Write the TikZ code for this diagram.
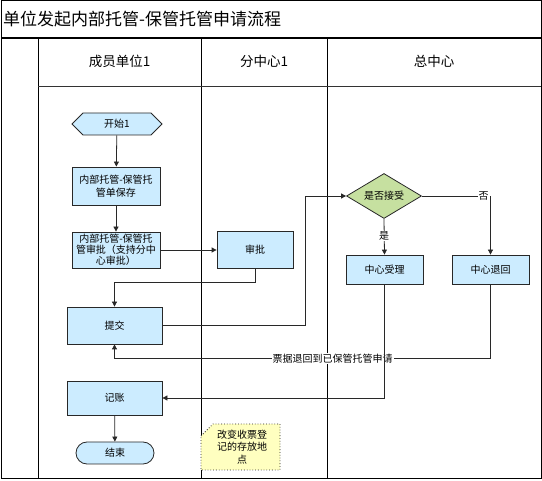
\documentclass[tikz,border=0pt]{standalone}
\usepackage{fontspec}
\setmainfont{Noto Sans CJK SC}
\usetikzlibrary{arrows.meta,shapes.geometric,shapes.symbols,calc}
\definecolor{boxfill}{RGB}{204,236,255}
\definecolor{diafill}{RGB}{198,224,160}
\definecolor{notefill}{RGB}{255,255,192}
\definecolor{edge}{RGB}{40,40,40}
\tikzset{
  frame/.style={draw=black,line width=1pt},
  stepbox/.style={draw=edge,fill=boxfill,line width=0.8pt,inner sep=1pt,align=center,font=\fontsize{10}{12.5}\selectfont},
  conn/.style={draw=edge,line width=0.8pt,-{Triangle[length=5pt,width=5pt]}},
  plain/.style={draw=edge,line width=0.8pt},
  lbl/.style={fill=white,inner sep=1pt,font=\fontsize{10}{11}\selectfont},
  hdr/.style={font=\fontsize{13.5}{15}\selectfont}
}
\begin{document}
\begin{tikzpicture}[x=1pt,y=-1pt]
\useasboundingbox (0,0) rectangle (542,481);
% frame
\draw[frame] (1,1) rectangle (541,479);
\draw[line width=2pt] (1,38) -- (541,38);
\draw[frame] (38,38) -- (38,479);
\draw[frame] (201,38) -- (201,479);
\draw[frame] (327,38) -- (327,479);
\draw[line width=1.2pt,draw=black!80] (38,86.5) -- (541,86.5);
\node[anchor=west,font=\fontsize{17}{19}\selectfont,inner sep=0] (title) at (3,19) {单位发起内部托管-保管托管申请流程};
\node[hdr] (h1) at (119.5,61) {成员单位1};
\node[hdr] (h2) at (264,61) {分中心1};
\node[hdr] (h3) at (434,61) {总中心};
% nodes
\node[signal,signal to=west and east,draw=edge,fill=boxfill,line width=0.8pt,minimum width=90pt,minimum height=22pt,inner sep=0pt,font=\fontsize{10}{12}\selectfont] (start) at (117,124) {开始1};
\node[stepbox,minimum width=88pt,minimum height=38pt] (save) at (116,186) {内部托管-保管托\\管单保存};
\node[stepbox,minimum width=88pt,minimum height=36pt,font=\fontsize{10}{11}\selectfont] (appr) at (116,250) {内部托管-保管托\\管审批（支持分中\\心审批）};
\node[stepbox,minimum width=76pt,minimum height=37pt] (shenpi) at (255,250) {审批};
\node[stepbox,minimum width=95pt,minimum height=37pt] (tijiao) at (114.5,325.5) {提交};
\node[stepbox,minimum width=95pt,minimum height=34pt] (jizhang) at (114.5,398) {记账};
\node[stepbox,rounded corners=11pt,minimum width=78pt,minimum height=22pt] (end) at (115,453) {结束};
\node[diamond,aspect=2,draw=edge,fill=diafill,line width=0.8pt,minimum width=75pt,minimum height=45pt,inner sep=0pt,font=\fontsize{10}{12}\selectfont] (dia) at (384,196) {是否接受};
\node[stepbox,minimum width=77pt,minimum height=29pt] (shouli) at (384.5,269.5) {中心受理};
\node[stepbox,minimum width=77pt,minimum height=29pt] (tuihui) at (490.5,269.5) {中心退回};
% note
\draw[dotted,draw=edge,fill=notefill,line width=0.8pt] (201,436) -- (213,424) -- (280,424) -- (280,470) -- (201,470) -- cycle;
\node[align=center,inner sep=0,font=\fontsize{10}{12.5}\selectfont] (note) at (242,447) {改变收票登\\记的存放地\\点};
% connectors
\draw[conn] (start) -- (save);
\draw[conn] (save) -- (appr);
\draw[conn] (appr.east) -- (shenpi.west);
\draw[conn] (shenpi.south) -- ++(0,14) -| (tijiao.north);
\draw[conn] (tijiao.east) -- ++(143,0) |- (dia.west);
\draw[conn] (dia.east) -| node[lbl,pos=0.45] {否} (tuihui.north);
\draw[conn] (dia.south) -- node[lbl,pos=0.48] {是} (shouli.north);
\draw[conn] (tuihui.south) -- ++(0,74) coordinate (r1) -- node[lbl,pos=0.42] {票据退回到已保管托管申请} (r1 -| tijiao.south) -- (tijiao.south);
\draw[conn] (shouli.south) |- (jizhang.east);
\draw[conn] (jizhang) -- (end);
\end{tikzpicture}
\end{document}
